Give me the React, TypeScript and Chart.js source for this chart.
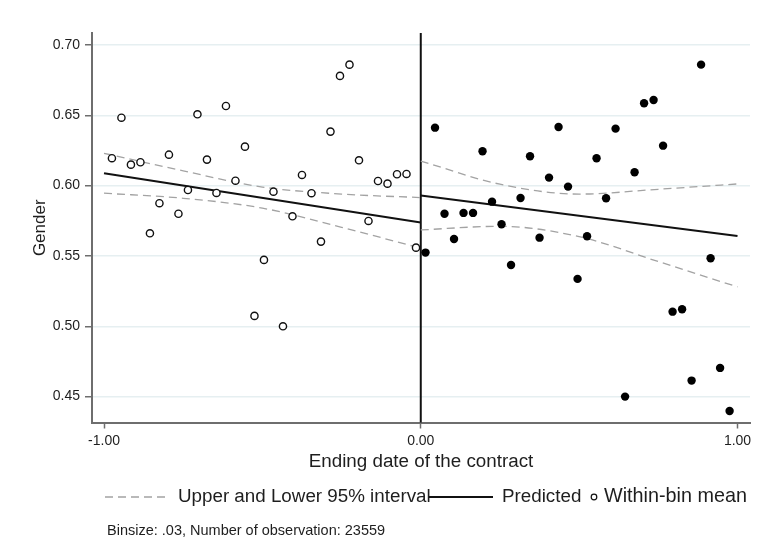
import React, { useEffect, useRef } from "react";
import { Chart, registerables } from "chart.js";

Chart.register(...registerables);

const FONT = '"Liberation Sans", Arial, Helvetica, sans-serif';

// Bin centers and within-bin means (left of cutoff: hollow, right: filled)
const leftBins = [
  -0.975, -0.945, -0.915, -0.885, -0.855, -0.825, -0.795, -0.765, -0.735, -0.705, -0.675,
  -0.645, -0.615, -0.585, -0.555, -0.525, -0.495, -0.465, -0.435, -0.405, -0.375, -0.345,
  -0.315, -0.285, -0.255, -0.225, -0.195, -0.165, -0.135, -0.105, -0.075, -0.045, -0.015,
];
const leftMeans = [
  0.6195, 0.6483, 0.6149, 0.6166, 0.5661, 0.5875, 0.622, 0.58, 0.5969, 0.6507, 0.6185,
  0.5948, 0.6566, 0.6035, 0.6277, 0.5074, 0.5472, 0.5957, 0.5, 0.5782, 0.6076, 0.5946,
  0.5602, 0.6384, 0.678, 0.686, 0.618, 0.5749, 0.6033, 0.6014, 0.6081, 0.6083, 0.5559,
];
const rightBins = [
  0.015, 0.045, 0.075, 0.105, 0.135, 0.165, 0.195, 0.225, 0.255, 0.285, 0.315,
  0.345, 0.375, 0.405, 0.435, 0.465, 0.495, 0.525, 0.555, 0.585, 0.615, 0.645,
  0.675, 0.705, 0.735, 0.765, 0.795, 0.825, 0.855, 0.885, 0.915, 0.945, 0.975,
];
const rightMeans = [
  0.5524, 0.6412, 0.58, 0.5621, 0.5806, 0.5806, 0.6244, 0.5886, 0.5725, 0.5436, 0.5912,
  0.6209, 0.563, 0.6057, 0.6417, 0.5993, 0.5337, 0.564, 0.6195, 0.591, 0.6405, 0.45,
  0.6095, 0.6586, 0.6609, 0.6284, 0.5104, 0.5121, 0.4614, 0.686, 0.5484, 0.4704, 0.4398,
];

// Predicted (fitted) lines
const fitLeftX = [-1, 0];
const fitLeftY = [0.6088, 0.5738];
const fitRightX = [0, 1];
const fitRightY = [0.5929, 0.5642];

// 95% interval bands (read at several positions)
const ciLeftX = [-1, -0.75, -0.5, -0.25, 0];
const ciLeftUpper = [0.623, 0.6105, 0.599, 0.594, 0.5915];
const ciLeftLower = [0.5946, 0.591, 0.584, 0.5704, 0.5555];
const ciRightX = [0, 0.25, 0.5, 0.75, 1];
const ciRightUpper = [0.6175, 0.601, 0.594, 0.5974, 0.6012];
const ciRightLower = [0.5685, 0.5711, 0.5637, 0.546, 0.528];

const cutoff = 0;
const xTicks = [-1, 0, 1];
const yTicks = [0.45, 0.5, 0.55, 0.6, 0.65, 0.7];
const xTitle = "Ending date of the contract";
const yTitle = "Gender";
const legendLabels = ["Upper and Lower 95% interval", "Predicted", "Within-bin mean"];
const note = "Binsize: .03, Number of observation: 23559";

const pts = (xs: number[], ys: number[]) => xs.map((x, i) => ({ x, y: ys[i] }));

const CI_COLOR = "#a3a3a3";
const AXIS_COLOR = "#6e6e6e";
const GRID_COLOR = "#e6eff1";
const TEXT_COLOR = "#1e1e1e";

const decor = {
  id: "decor",
  beforeDatasetsDraw(chart: any) {
    const { ctx, chartArea, scales } = chart;
    const x = scales.x.getPixelForValue(cutoff);
    ctx.save();
    ctx.strokeStyle = "#111";
    ctx.lineWidth = 2;
    ctx.beginPath();
    ctx.moveTo(x, chartArea.top);
    ctx.lineTo(x, chartArea.bottom);
    ctx.stroke();
    ctx.restore();
  },
  afterDraw(chart: any) {
    const ctx = chart.ctx;
    ctx.save();
    const ly = 497;
    ctx.textBaseline = "middle";
    ctx.textAlign = "left";
    ctx.fillStyle = TEXT_COLOR;
    ctx.font = `18.8px ${FONT}`;
    // dashed sample
    ctx.strokeStyle = CI_COLOR;
    ctx.lineWidth = 1.3;
    ctx.setLineDash([8, 5]);
    ctx.beginPath();
    ctx.moveTo(105, ly);
    ctx.lineTo(170, ly);
    ctx.stroke();
    ctx.setLineDash([]);
    ctx.fillText(legendLabels[0], 178, ly);
    // solid sample
    ctx.strokeStyle = "#111";
    ctx.lineWidth = 2;
    ctx.beginPath();
    ctx.moveTo(429, ly);
    ctx.lineTo(493, ly);
    ctx.stroke();
    ctx.fillText(legendLabels[1], 502, ly);
    // hollow circle
    ctx.lineWidth = 1.2;
    ctx.strokeStyle = "#111";
    ctx.fillStyle = "#fff";
    ctx.beginPath();
    ctx.arc(594, ly, 2.8, 0, Math.PI * 2);
    ctx.fill();
    ctx.stroke();
    ctx.fillStyle = TEXT_COLOR;
    ctx.font = `19.8px ${FONT}`;
    ctx.fillText(legendLabels[2], 604, ly);
    // footnote
    ctx.font = `14.5px ${FONT}`;
    ctx.fillText(note, 107, 531);
    ctx.restore();
  },
};

export default function App() {
  const ref = useRef<HTMLCanvasElement | null>(null);

  useEffect(() => {
    if (!ref.current) return;
    const chart = new Chart(ref.current, {
      type: "scatter",
      data: {
        datasets: [
          {
            label: "Within-bin mean (left)",
            data: pts(leftBins, leftMeans),
            pointRadius: 3.6,
            pointBorderWidth: 1.4,
            pointBackgroundColor: "#ffffff",
            pointBorderColor: "#111111",
            showLine: false,
          },
          {
            label: "Within-bin mean (right)",
            data: pts(rightBins, rightMeans),
            pointRadius: 4.2,
            pointBorderWidth: 0,
            pointBackgroundColor: "#000000",
            pointBorderColor: "#000000",
            showLine: false,
          },
          {
            label: "Predicted (left)",
            data: pts(fitLeftX, fitLeftY),
            showLine: true,
            pointRadius: 0,
            borderColor: "#111",
            borderWidth: 2,
          },
          {
            label: "Predicted (right)",
            data: pts(fitRightX, fitRightY),
            showLine: true,
            pointRadius: 0,
            borderColor: "#111",
            borderWidth: 2,
          },
          {
            label: "Upper (left)",
            data: pts(ciLeftX, ciLeftUpper),
            showLine: true,
            pointRadius: 0,
            borderColor: CI_COLOR,
            borderWidth: 1.3,
            borderDash: [8, 5],
            cubicInterpolationMode: "monotone",
          },
          {
            label: "Lower (left)",
            data: pts(ciLeftX, ciLeftLower),
            showLine: true,
            pointRadius: 0,
            borderColor: CI_COLOR,
            borderWidth: 1.3,
            borderDash: [8, 5],
            cubicInterpolationMode: "monotone",
          },
          {
            label: "Upper (right)",
            data: pts(ciRightX, ciRightUpper),
            showLine: true,
            pointRadius: 0,
            borderColor: CI_COLOR,
            borderWidth: 1.3,
            borderDash: [8, 5],
            cubicInterpolationMode: "monotone",
          },
          {
            label: "Lower (right)",
            data: pts(ciRightX, ciRightLower),
            showLine: true,
            pointRadius: 0,
            borderColor: CI_COLOR,
            borderWidth: 1.3,
            borderDash: [8, 5],
            cubicInterpolationMode: "monotone",
          },
        ],
      },
      options: {
        animation: false,
        responsive: true,
        maintainAspectRatio: false,
        layout: { padding: { left: 0, top: 33, right: 10, bottom: 66.5 } },
        plugins: {
          legend: { display: false },
          tooltip: { enabled: false },
        },
        scales: {
          x: {
            type: "linear",
            min: -1.0379,
            max: 1.0394,
            afterBuildTicks: (s: any) => {
              s.ticks = xTicks.map((v) => ({ value: v }));
            },
            afterFit: (s: any) => {
              s.height = 51;
            },
            ticks: {
              autoSkip: false,
              maxRotation: 0,
              padding: 4,
              color: TEXT_COLOR,
              font: { family: FONT, size: 14 },
              callback: (v: any) => Number(v).toFixed(2),
            },
            grid: {
              drawOnChartArea: false,
              drawTicks: true,
              tickLength: 6,
              tickColor: AXIS_COLOR,
              tickWidth: 1.5,
            },
            border: { display: true, color: AXIS_COLOR, width: 2 },
            title: {
              display: true,
              text: xTitle,
              color: TEXT_COLOR,
              font: { family: FONT, size: 18.8 },
              padding: { top: 0, bottom: 0 },
            },
          },
          y: {
            type: "linear",
            min: 0.4316,
            max: 0.7085,
            afterBuildTicks: (s: any) => {
              s.ticks = yTicks.map((v) => ({ value: v }));
            },
            afterFit: (s: any) => {
              s.width = 92;
            },
            ticks: {
              autoSkip: false,
              padding: 5,
              color: TEXT_COLOR,
              font: { family: FONT, size: 14 },
              callback: (v: any) => Number(v).toFixed(2),
            },
            grid: {
              color: GRID_COLOR,
              lineWidth: 1.5,
              drawTicks: true,
              tickLength: 7,
              tickColor: AXIS_COLOR,
              tickWidth: 1.5,
            },
            border: { display: true, color: AXIS_COLOR, width: 2 },
            title: {
              display: true,
              text: yTitle,
              color: TEXT_COLOR,
              font: { family: FONT, size: 17 },
              padding: { top: 30, bottom: 0 },
            },
          },
        },
      },
      plugins: [decor],
    } as any);
    return () => chart.destroy();
  }, []);

  return (
    <div style={{ position: "absolute", left: 0, top: 0, width: 760, height: 540, background: "#fff" }}>
      <canvas ref={ref} />
    </div>
  );
}
